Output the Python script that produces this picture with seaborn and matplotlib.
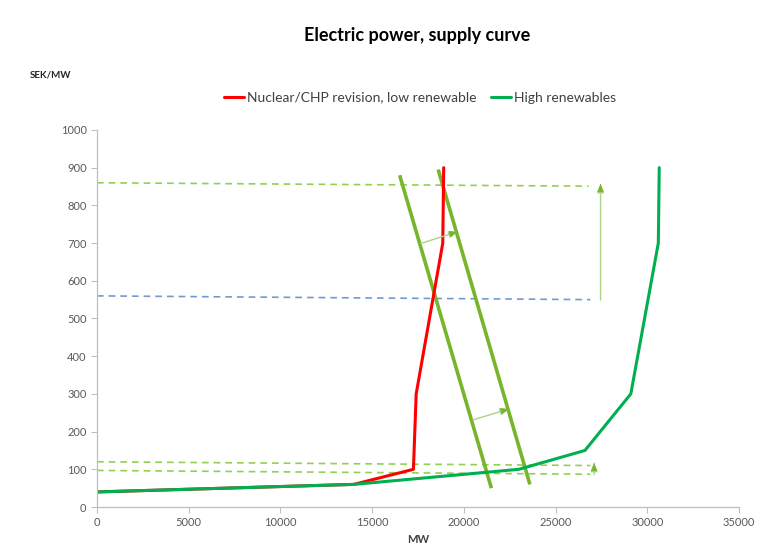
import numpy as np
import pandas as pd
import matplotlib
matplotlib.use("Agg")
import matplotlib.pyplot as plt
import seaborn as sns

sns.set_style("white")
plt.rcParams['font.family'] = ['Lato', 'DejaVu Sans']

# supply curves (MW, SEK/MW)
nuclear_mw = [0, 14000, 17250, 17400, 18850, 18900]
nuclear_price = [40, 60, 100, 300, 700, 900]
renew_mw = [0, 14000, 23000, 26600, 29100, 30600, 30650]
renew_price = [40, 60, 100, 150, 300, 700, 900]

# demand lines (thick olive)
demand1_mw = [16500, 21500]
demand1_price = [880, 50]
demand2_mw = [18600, 23600]
demand2_price = [895, 60]

# dashed price levels
dash_green_top = ([0, 26800], [860, 851])
dash_blue = ([0, 26900], [560, 550])
dash_green_low1 = ([0, 26900], [120, 110])
dash_green_low2 = ([0, 26900], [97, 87])

# arrows (start, end)
arrows = [
    ((27450, 549), (27450, 857)),
    ((27100, 86), (27100, 117)),
    ((17650, 699), (19650, 730)),
    ((20500, 231), (22450, 260)),
]

df = pd.concat([
    pd.DataFrame({"MW": nuclear_mw, "price": nuclear_price,
                  "scenario": "Nuclear/CHP revision, low renewable"}),
    pd.DataFrame({"MW": renew_mw, "price": renew_price,
                  "scenario": "High renewables"}),
])

fig, ax = plt.subplots(figsize=(7.79, 5.48), dpi=100)
fig.subplots_adjust(left=0.1245, right=0.9487, bottom=0.0748, top=0.7628)

olive = "#77B62B"
light_green = "#92D050"

for xs, ys in [dash_green_top, dash_green_low1, dash_green_low2]:
    ax.plot(xs, ys, color=light_green, lw=1.2, ls=(0, (4, 3)))
ax.plot(*dash_blue, color="#6F9BD1", lw=1.2, ls=(0, (4, 3)))

ax.plot(demand1_mw, demand1_price, color=olive, lw=2.6, solid_capstyle="butt")
ax.plot(demand2_mw, demand2_price, color=olive, lw=2.6, solid_capstyle="butt")

sns.lineplot(data=df, x="MW", y="price", hue="scenario", sort=False,
             palette={"Nuclear/CHP revision, low renewable": "#FF0000",
                      "High renewables": "#00B050"},
             lw=2.2, ax=ax, estimator=None)

for (x0, y0), (x1, y1) in arrows:
    ax.annotate("", xy=(x1, y1), xytext=(x0, y0),
                arrowprops=dict(arrowstyle="-|>,head_length=0.5,head_width=0.2",
                                color="#A9D48A", lw=1.0,
                                shrinkA=0, shrinkB=0))
    # darker arrow head
    ax.annotate("", xy=(x1, y1), xytext=(x1 - (x1 - x0) * 0.01, y1 - (y1 - y0) * 0.01),
                arrowprops=dict(arrowstyle="-|>,head_length=0.5,head_width=0.2",
                                color=olive, lw=0.5, shrinkA=0, shrinkB=0))

ax.set_xlim(0, 35000)
ax.set_ylim(0, 1000)
ax.set_xticks(np.arange(0, 35001, 5000))
ax.set_yticks(np.arange(0, 1001, 100))
ax.tick_params(axis="both", labelsize=8, labelcolor="#595959", length=4,
               width=0.8, color="#BFBFBF", direction="out", bottom=True, left=True)
for side in ["top", "right"]:
    ax.spines[side].set_visible(False)
for side in ["left", "bottom"]:
    ax.spines[side].set_color("#BFBFBF")
    ax.spines[side].set_linewidth(0.9)

ax.set_xlabel("MW", fontsize=8, fontweight="bold", color="#404040", labelpad=4)
ax.set_ylabel("")
fig.text(0.038, 0.858, "SEK/MW", fontsize=7, fontweight="bold", color="#262626")
fig.suptitle("Electric power, supply curve", x=0.535, y=0.95, fontsize=13,
             fontweight="bold", color="black")

leg = ax.legend(loc="center", bbox_to_anchor=(0.539, 0.822), bbox_transform=fig.transFigure,
                ncol=2, frameon=False, fontsize=10, handlelength=1.5,
                handletextpad=0.2, columnspacing=1.0, title=None)
for text in leg.get_texts():
    text.set_color("#404040")

fig.savefig("out.png", dpi=100)
